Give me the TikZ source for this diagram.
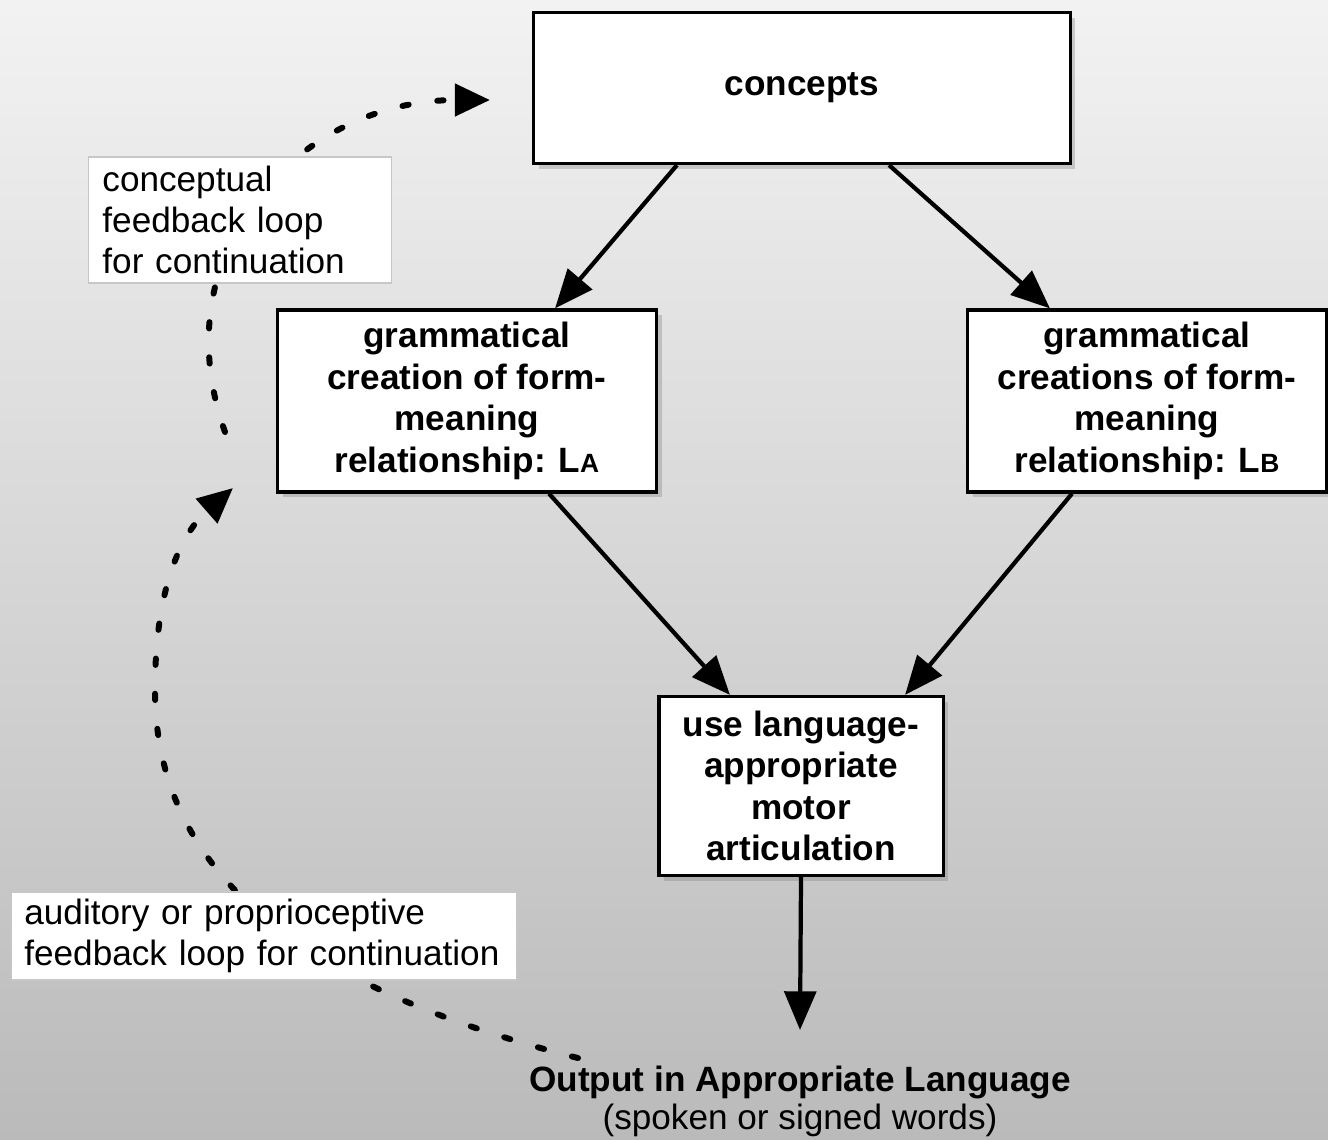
\documentclass[tikz,border=0pt]{standalone}
\usepackage{fontspec}
\setmainfont{Liberation Sans}
\usetikzlibrary{arrows.meta}
\usetikzlibrary{shadows}

\begin{document}
\begin{tikzpicture}
[x=0.01cm,y=-0.01cm,%
  box/.style={shape=rectangle,draw,line width=0.9pt,fill=white,align=center,%
    font=\fontsize{10}{11.8}\selectfont\bfseries,%
    drop shadow={opacity=0.35,shadow xshift=1.5pt,shadow yshift=-1.5pt}},%
  note/.style={shape=rectangle,draw=black!22,line width=0.4pt,fill=white,align=left,%
    font=\fontsize{10}{11.7}\selectfont,inner xsep=0.14cm,inner ysep=0.07cm},%
  arr/.style={-{Triangle[length=11pt,width=9pt]},line width=1.2pt},%
  feedback/.style={-{Triangle[length=10pt,width=9pt]},line width=1.7pt,%
    line cap=round,dash pattern=on 1.8pt off 8.2pt}]
\useasboundingbox (0,0) rectangle (1328,1139);
\fill[top color=black!5,bottom color=black!27] (0,0) rectangle (1328,1139);
% boxes
\node[box,minimum width=5.36cm,minimum height=1.51cm] (concepts) at (802,88) {concepts};
\node[box,minimum width=3.79cm,minimum height=1.82cm] (gramA) at (467,401)
  {grammatical\\creation of form-\\meaning\\relationship: L{\fontsize{7.5}{9}\selectfont A}};
\node[box,minimum width=3.59cm,minimum height=1.82cm] (gramB) at (1147,401)
  {grammatical\\creations of form-\\meaning\\relationship: L{\fontsize{7.5}{9}\selectfont B}};
\node[box,minimum width=2.84cm,minimum height=1.79cm] (motor) at (801,786)
  {use language-\\appropriate\\motor\\articulation};
\node[font=\fontsize{10}{10.8}\selectfont,align=center,anchor=north,inner xsep=0pt,inner ysep=0.35cm]
  (output) at (800,1030)
  {{\bfseries Output in Appropriate Language}\\(spoken or signed words)};
% arrows
\draw[arr] ([xshift=-1.25cm]concepts.south) -- ([xshift=0.88cm]gramA.north);
\draw[arr] ([xshift=0.87cm]concepts.south) -- ([xshift=-0.97cm]gramB.north);
\draw[arr] ([xshift=0.82cm]gramA.south) -- ([xshift=-0.71cm]motor.north);
\draw[arr] ([xshift=-0.75cm]gramB.south) -- ([xshift=1.04cm]motor.north);
\draw[arr] (motor.south) -- (output.north);
% feedback loops
\coordinate (conctail) at (225,432);
\coordinate (conchead) at (490,100);
\draw[feedback] (conctail) .. controls (160,250) and (300,100) .. (conchead);
\coordinate (audtail) at (578,1058);
\coordinate (audhead) at (233,488);
\draw[feedback] (audtail) .. controls (350,1000) and (155,900) .. (155,690)
  .. controls (155,580) and (185,530) .. (audhead);
\node[note,text width=2.75cm,minimum height=1.26cm] (conclabel) at (240,220)
  {conceptual\\feedback loop\\for continuation};
\node[note,text width=4.79cm,inner xsep=0.13cm,minimum height=0.82cm] (audlabel) at (264,936)
  {auditory or proprioceptive\\feedback loop for continuation};
\end{tikzpicture}
\end{document}
